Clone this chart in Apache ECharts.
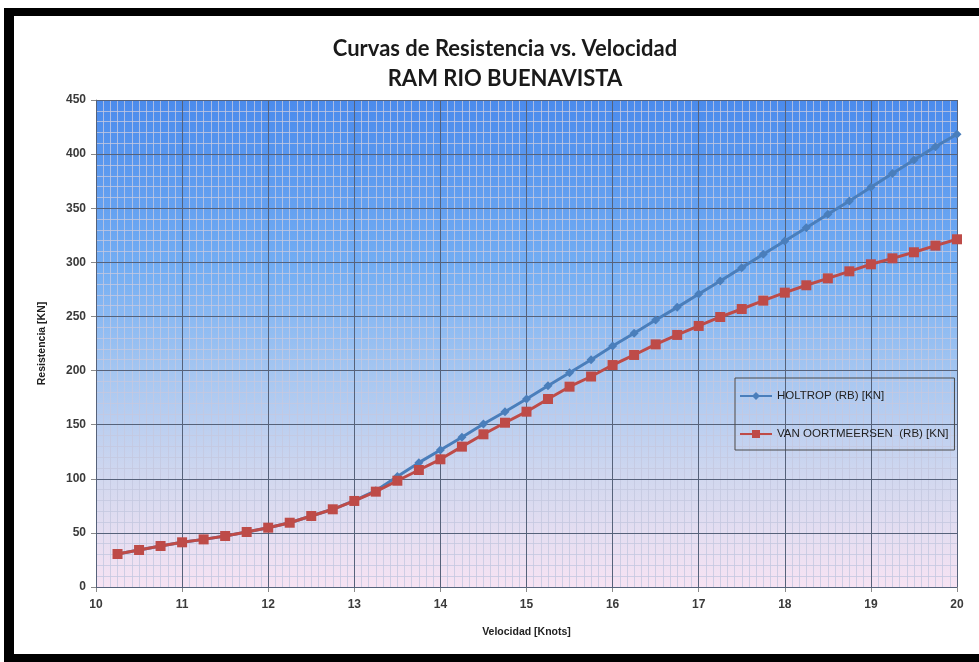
<!DOCTYPE html>
<html>
<head>
<meta charset="utf-8">
<script src="https://cdn.jsdelivr.net/npm/echarts@6/dist/echarts.min.js"></script>
<style>
  html, body { margin: 0; padding: 0; background: #fff; overflow: hidden; }
  #chart { position: absolute; left: 0; top: 0; width: 979px; height: 662px; }
  #frame {
    position: absolute; left: 4px; top: 8px; width: 1000px; height: 638px;
    border-top: 8px solid #000; border-left: 10px solid #000; border-bottom: 8px solid #000;
    pointer-events: none;
  }
</style>
</head>
<body>
<div id="chart"></div>
<div id="frame"></div>
<script>
// Velocidad [Knots]
const VELOCIDAD = [10.25, 10.5, 10.75, 11, 11.25, 11.5, 11.75, 12, 12.25, 12.5,
  12.75, 13, 13.25, 13.5, 13.75, 14, 14.25, 14.5, 14.75, 15,
  15.25, 15.5, 15.75, 16, 16.25, 16.5, 16.75, 17, 17.25, 17.5,
  17.75, 18, 18.25, 18.5, 18.75, 19, 19.25, 19.5, 19.75, 20];

// HOLTROP (RB) [KN]
const HOLTROP = [30.5, 34.2, 37.9, 41.3, 44.0, 47.1, 50.8, 54.8, 59.4, 65.6,
  71.8, 79.8, 89.0, 102.0, 114.9, 126.6, 138.3, 150.6, 162.0, 173.7,
  186.0, 198.0, 210.0, 222.7, 234.4, 246.7, 258.4, 270.7, 282.8, 295.1,
  307.4, 319.7, 332.0, 344.4, 356.7, 369.3, 382.0, 394.6, 406.9, 418.3];

// VAN OORTMEERSEN (RB) [KN]
const VAN_OORTMEERSEN = [30.5, 34.2, 37.9, 41.3, 44.0, 47.1, 50.8, 54.8, 59.4, 65.6,
  71.8, 79.5, 88.1, 98.2, 108.1, 118.0, 129.7, 141.1, 151.8, 162.0,
  173.7, 185.1, 194.5, 205.1, 214.4, 224.2, 232.9, 241.2, 249.5, 256.9,
  264.6, 272.0, 278.8, 285.2, 291.7, 298.2, 303.7, 309.3, 315.4, 321.3];

const SERIES_NAMES = ['HOLTROP (RB) [KN]', 'VAN OORTMEERSEN  (RB) [KN]'];

const FONT = '"Liberation Sans", Arial, sans-serif';
const TITLE_FONT = 'Lato, "Liberation Sans", sans-serif';
const MAJOR_GRID = '#56627a';
const MINOR_GRID = 'rgba(196,200,224,0.8)';

// major grid lines drawn by a second, label-less pair of axes so they sit above the minor ones
const overlayAxis = (min, max, interval, position) => ({
  type: 'value', min, max, interval, position, z: 1,
  axisLine: { show: false }, axisTick: { show: false }, axisLabel: { show: false },
  splitLine: { show: true, lineStyle: { color: MAJOR_GRID, width: 1 } }
});

const chart = echarts.init(document.getElementById('chart'));
chart.setOption({
  animation: false,
  title: {
    text: 'Curvas de Resistencia vs. Velocidad\nRAM RIO BUENAVISTA',
    left: 500,
    top: 29,
    textAlign: 'center',
    textStyle: { fontFamily: TITLE_FONT, fontSize: 22, fontWeight: 'bold', color: '#1a1a1a', lineHeight: 30 }
  },
  grid: {
    left: 96, right: 22, top: 100, bottom: 75,
    show: true,
    borderWidth: 0,
    backgroundColor: new echarts.graphic.LinearGradient(0, 0, 0, 1, [
      { offset: 0, color: '#4b8bec' },
      { offset: 0.35, color: '#74aef3' },
      { offset: 0.55, color: '#a3c5f1' },
      { offset: 0.78, color: '#d2d8ef' },
      { offset: 1, color: '#f7e3f3' }
    ])
  },
  legend: {
    orient: 'vertical',
    left: 735,
    top: 378,
    padding: [12, 6, 10, 4],
    itemGap: 26,
    itemWidth: 32,
    itemHeight: 10,
    borderColor: '#4a4a4a',
    borderWidth: 1,
    textStyle: { fontFamily: FONT, fontSize: 11.5, color: '#222' },
    data: SERIES_NAMES
  },
  xAxis: [{
    type: 'value',
    min: 10, max: 20, interval: 1,
    name: 'Velocidad [Knots]',
    nameLocation: 'middle',
    nameGap: 40,
    nameTextStyle: { fontFamily: FONT, fontSize: 10.5, fontWeight: 'bold', color: '#222' },
    axisLine: { show: true, lineStyle: { color: '#8a8a8a' } },
    axisTick: { show: true, length: 5, lineStyle: { color: '#8a8a8a' } },
    axisLabel: { fontFamily: FONT, fontSize: 12, fontWeight: 'bold', color: '#3a3a3a', margin: 12 },
    splitLine: { show: false },
    minorTick: { show: false, splitNumber: 12 },
    minorSplitLine: { show: true, lineStyle: { color: MINOR_GRID, width: 1 } }
  }, overlayAxis(10, 20, 1, 'top')],
  yAxis: [{
    type: 'value',
    min: 0, max: 450, interval: 50,
    name: 'Resistencia [KN]',
    nameLocation: 'middle',
    nameGap: 48,
    nameTextStyle: { fontFamily: FONT, fontSize: 10.5, fontWeight: 'bold', color: '#222' },
    axisLine: { show: true, lineStyle: { color: '#8a8a8a' } },
    axisTick: { show: true, length: 5, lineStyle: { color: '#8a8a8a' } },
    axisLabel: { fontFamily: FONT, fontSize: 12, fontWeight: 'bold', color: '#3a3a3a', margin: 10 },
    splitLine: { show: false },
    minorTick: { show: false, splitNumber: 5 },
    minorSplitLine: { show: true, lineStyle: { color: MINOR_GRID, width: 1 } }
  }, overlayAxis(0, 450, 50, 'right')],
  series: [
    {
      name: SERIES_NAMES[0],
      type: 'line',
      data: VELOCIDAD.map((v, i) => [v, HOLTROP[i]]),
      symbol: 'diamond',
      symbolSize: 9,
      lineStyle: { color: '#4a7ebb', width: 3 },
      itemStyle: { color: '#4a7ebb' }
    },
    {
      name: SERIES_NAMES[1],
      type: 'line',
      data: VELOCIDAD.map((v, i) => [v, VAN_OORTMEERSEN[i]]),
      symbol: 'rect',
      symbolSize: 10,
      lineStyle: { color: '#be4b48', width: 3 },
      itemStyle: { color: '#be4b48' }
    }
  ]
});
</script>
</body>
</html>
